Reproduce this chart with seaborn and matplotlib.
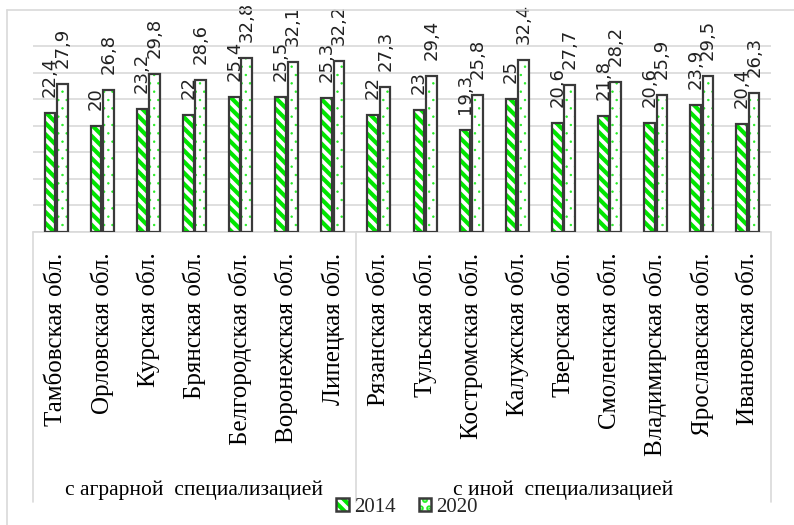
import matplotlib
matplotlib.use("Agg")
import matplotlib.pyplot as plt
import matplotlib.patches as mpatches
from matplotlib.lines import Line2D
from matplotlib.legend_handler import HandlerTuple
import seaborn as sns
import pandas as pd

regions = ["Тамбовская обл.", "Орловская обл.", "Курская обл.", "Брянская обл.",
           "Белгородская обл.", "Воронежская обл.", "Липецкая обл.",
           "Рязанская обл.", "Тульская обл.", "Костромская обл.", "Калужская обл.",
           "Тверская обл.", "Смоленская обл.", "Владимирская обл.",
           "Ярославская обл.", "Ивановская обл."]
values_2014 = [22.4, 20, 23.2, 22, 25.4, 25.5, 25.3, 22, 23, 19.3, 25, 20.6, 21.8, 20.6, 23.9, 20.4]
values_2020 = [27.9, 26.8, 29.8, 28.6, 32.8, 32.1, 32.2, 27.3, 29.4, 25.8, 32.4, 27.7, 28.2, 25.9, 29.5, 26.3]
years = ["2014", "2020"]
groups = ["с аграрной  специализацией", "с иной  специализацией"]
group_sizes = [7, 9]

df = pd.DataFrame({
    "region": regions * 2,
    "year": [years[0]] * len(regions) + [years[1]] * len(regions),
    "value": values_2014 + values_2020,
})

sns.set_theme(style="white")
plt.rcParams["font.family"] = ["DejaVu Sans"]
plt.rcParams["hatch.linewidth"] = 3.0

BS = chr(92)
HATCH_2014 = BS * 3
HATCH_2020 = ".."

W, H = 794, 525
fig = plt.figure(figsize=(W / 100, H / 100), dpi=100)
ax_left, ax_right = 33, 771
ax_bottom, ax_top = 231.7, 20
ax = fig.add_axes([ax_left / W, 1 - ax_bottom / H, (ax_right - ax_left) / W, (ax_bottom - ax_top) / H])

sns.barplot(data=df, x="region", y="value", hue="year", order=regions, hue_order=years,
            width=0.54, gap=0.15, legend=False, ax=ax, palette=["white", "white"])

GREEN = "#00e600"
DOTS = "#22ee22"
EDGE = "#3a3a3a"


def fmt(v):
    return str(int(v)) if float(v).is_integer() else str(v).replace(".", ",")


def style_fill(p, year_idx):
    p.set_facecolor("white")
    if year_idx == 0:
        p.set_edgecolor(GREEN)
        p.set_hatch(HATCH_2014)
    else:
        p.set_edgecolor(DOTS)
        p.set_hatch(HATCH_2020)
        if hasattr(p, "set_hatch_linewidth"):
            p.set_hatch_linewidth(0.5)
    p.set_linewidth(0)


for ci, cont in enumerate(ax.containers):
    for p in cont.patches:
        style_fill(p, ci)
        ax.add_patch(mpatches.Rectangle((p.get_x(), p.get_y()), p.get_width(), p.get_height(),
                                        fill=False, edgecolor=EDGE, linewidth=1.6, zorder=3))
    vals = values_2014 if ci == 0 else values_2020
    for p, v in zip(cont.patches, vals):
        ax.annotate(fmt(v), xy=(p.get_x() + p.get_width() / 2, p.get_height()),
                    xytext=(0, 11.5), textcoords="offset points", rotation=90,
                    ha="center", va="bottom", fontsize=13, color="#222222",
                    annotation_clip=False)

ax.set_xlim(-0.5, len(regions) - 0.5)
ax.set_ylim(0, 40)
ax.set_yticks(range(0, 36, 5))
ax.set_yticklabels([])
ax.tick_params(axis="y", length=0)
ax.yaxis.grid(True, color="#d9d9d9", linewidth=1.2)
ax.set_axisbelow(True)
for s in ax.spines.values():
    s.set_visible(False)
ax.set_xlabel("")
ax.set_ylabel("")
ax.set_xticks(range(len(regions)))
ax.set_xticklabels(regions, rotation=90, fontfamily="Liberation Serif", fontsize=18, color="black")
ax.tick_params(axis="x", length=0, pad=15)

# category axis box
ax_h = ax_bottom - ax_top


def yax(py):
    return (ax_bottom - py) / ax_h


tr = ax.get_xaxis_transform()
ax.add_line(Line2D([-0.5, len(regions) - 0.5], [0, 0], transform=tr, color="#d9d9d9", lw=1.2, clip_on=False))
bounds = [-0.5]
for g in group_sizes:
    bounds.append(bounds[-1] + g)
for b in bounds:
    ax.add_line(Line2D([b, b], [0, yax(502)], transform=tr, color="#d9d9d9", lw=1.2, clip_on=False))
for gi, g in enumerate(groups):
    cx = (bounds[gi] + bounds[gi + 1]) / 2
    ax.text(cx, yax(490), g, transform=tr, ha="center", va="center",
            fontfamily="Liberation Serif", fontsize=15.5, color="black")

# outer frame
fig.add_artist(Line2D([7 / W, 1], [1 - 10 / H, 1 - 10 / H], transform=fig.transFigure, color="#d9d9d9", lw=1.2))
fig.add_artist(Line2D([7 / W, 7 / W], [0, 1 - 10 / H], transform=fig.transFigure, color="#d9d9d9", lw=1.2))

handles = []
for yi in range(len(years)):
    fill = mpatches.Patch()
    style_fill(fill, yi)
    outline = mpatches.Patch(facecolor="none", edgecolor=EDGE, linewidth=1.8)
    handles.append((fill, outline))
leg = fig.legend(handles=handles, labels=years, ncol=2,
                 loc="center", bbox_to_anchor=(407 / W, 1 - 507 / H), frameon=False,
                 prop={"family": "Liberation Serif", "size": 15},
                 handlelength=0.6, handleheight=0.6, handletextpad=0.25, columnspacing=1.1,
                 handler_map={tuple: HandlerTuple(ndivide=1, pad=0)})

fig.savefig("out.png", dpi=100, facecolor="white")
